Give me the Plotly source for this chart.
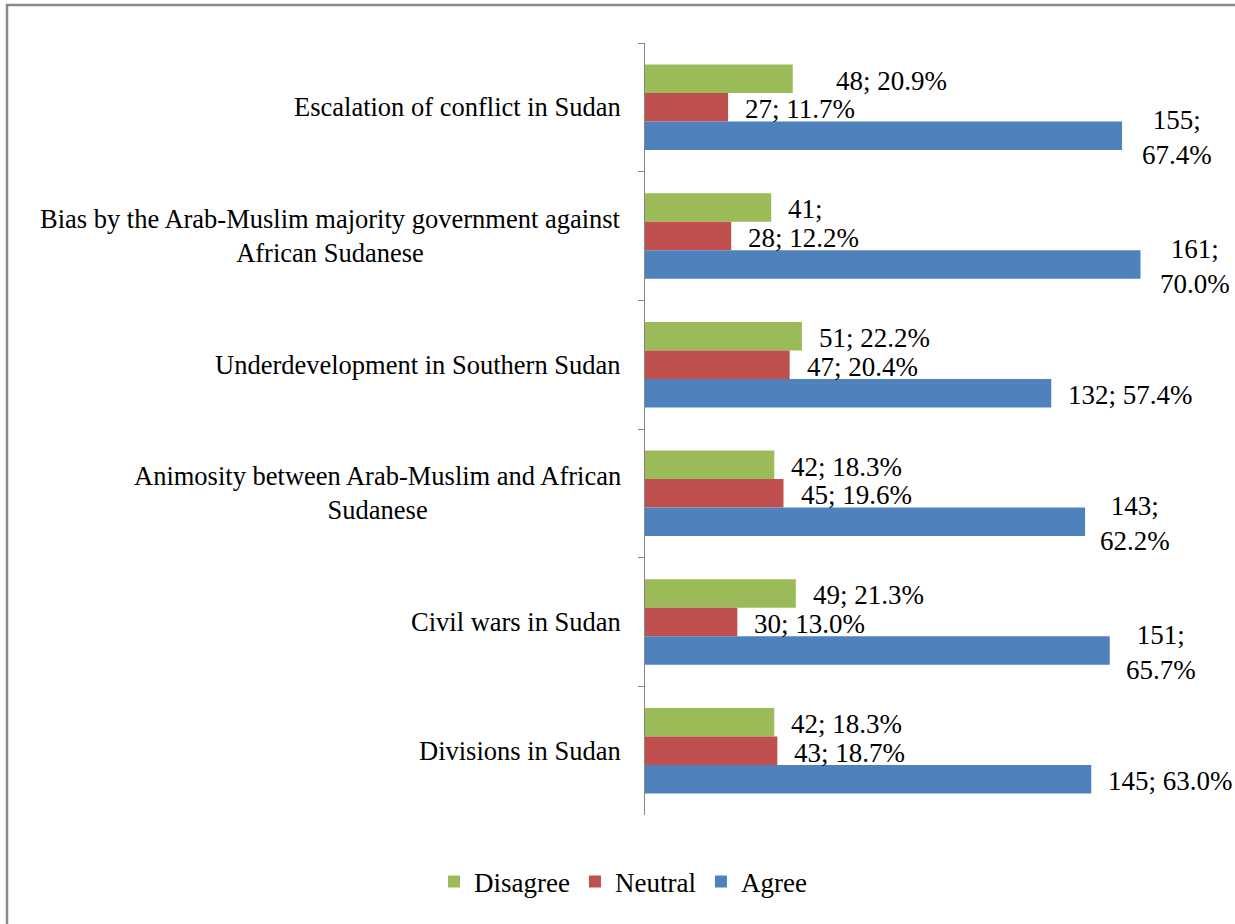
import plotly.graph_objects as go

# Survey results: perceived causes of the conflict in Sudan (n = 230)
categories = [
    "Escalation of conflict in Sudan",
    "Bias by the Arab-Muslim majority government against<br>African Sudanese",
    "Underdevelopment in Southern Sudan",
    "Animosity between Arab-Muslim and African<br>Sudanese",
    "Civil wars in Sudan",
    "Divisions in Sudan",
]

disagree = [48, 41, 51, 42, 49, 42]
disagree_pct = [20.9, 17.8, 22.2, 18.3, 21.3, 18.3]

neutral = [27, 28, 47, 45, 30, 43]
neutral_pct = [11.7, 12.2, 20.4, 19.6, 13.0, 18.7]

agree = [155, 161, 132, 143, 151, 145]
agree_pct = [67.4, 70.0, 57.4, 62.2, 65.7, 63.0]

series_names = ["Disagree", "Neutral", "Agree"]

# How each data label is laid out: one line, wrapped on two lines, or cut after the count
label_style = [
    ["one", "cut", "one", "one", "one", "one"],
    ["one", "one", "one", "one", "one", "one"],
    ["two", "two", "one", "two", "two", "one"],
]
# Horizontal gap (px) between bar end and its label
label_dx = [
    [41, 15, 15, 15, 15, 15],
    [15, 15, 15, 15, 15, 15],
    [18, 17, 15, 13, 14, 15],
]

colors = ["#9BBB59", "#C0504D", "#4F81BD"]
FONT = "Liberation Serif"

W, H = 1235, 924
ML, MR, MT, MB = 645, 36, 43, 109
XMAX = 180
BARGAP = 0.335
bar_w = (1 - BARGAP) / 3
plot_w = W - ML - MR
plot_h = H - MT - MB


def px_to_paper_x(px):
    return (px - ML) / plot_w


def px_to_paper_y(py):
    return (H - MB - py) / plot_h


fig = go.Figure()
values = [disagree, neutral, agree]
pcts = [disagree_pct, neutral_pct, agree_pct]
for k, name in enumerate(series_names):
    fig.add_bar(
        y=categories,
        x=values[k],
        orientation="h",
        name=name,
        marker=dict(color=colors[k], line=dict(width=0)),
    )

# Data labels "count; percent"
for k in range(3):
    for i, v in enumerate(values[k]):
        style = label_style[k][i]
        p = pcts[k][i]
        if style == "two":
            txt = f"{v};<br>{p:.1f}%"
        elif style == "cut":
            txt = f"{v};"
        else:
            txt = f"{v}; {p:.1f}%"
        fig.add_annotation(
            x=v, y=i + (k - 1) * bar_w, xref="x", yref="y",
            text=txt, showarrow=False, xanchor="left", yanchor="middle",
            align="center", xshift=label_dx[k][i], yshift=-2,
            font=dict(family=FONT, size=27, color="#000000"),
        )

# Category labels, centred text blocks right-aligned against the axis
for i, c in enumerate(categories):
    fig.add_annotation(
        x=0, y=i, xref="paper", yref="y", text=c, showarrow=False,
        xanchor="right", yanchor="middle", align="center", xshift=-22,
        font=dict(family=FONT, size=26.5, color="#000000"),
    )

# Outer frame of the chart area
fig.add_shape(
    type="path", xref="paper", yref="paper",
    path=(f"M {px_to_paper_x(7)} {px_to_paper_y(H + 5)} "
          f"L {px_to_paper_x(7)} {px_to_paper_y(5)} "
          f"L {px_to_paper_x(W + 5)} {px_to_paper_y(5)}"),
    line=dict(color="#8a8a8a", width=2.5),
)

fig.update_layout(
    template="none",
    width=W, height=H,
    margin=dict(l=ML, r=MR, t=MT, b=MB, pad=0),
    paper_bgcolor="white", plot_bgcolor="white",
    barmode="group", bargap=BARGAP, bargroupgap=0,
    font=dict(family=FONT, size=27, color="#000000"),
    showlegend=True,
    legend=dict(
        orientation="h", x=px_to_paper_x(623), xanchor="center",
        y=px_to_paper_y(882), yanchor="middle",
        font=dict(family=FONT, size=27, color="#000000"),
        bgcolor="rgba(0,0,0,0)", traceorder="normal",
    ),
    xaxis=dict(range=[0, XMAX], visible=False, showgrid=False, zeroline=False),
    yaxis=dict(
        type="category", categoryorder="array", categoryarray=categories,
        autorange="reversed", showticklabels=False, showgrid=False,
        zeroline=False, showline=True, linecolor="#868686", linewidth=1,
        ticks="outside", tickson="boundaries", ticklen=6,
        tickcolor="#868686", tickwidth=1,
    ),
)

fig.write_html("out.html")
